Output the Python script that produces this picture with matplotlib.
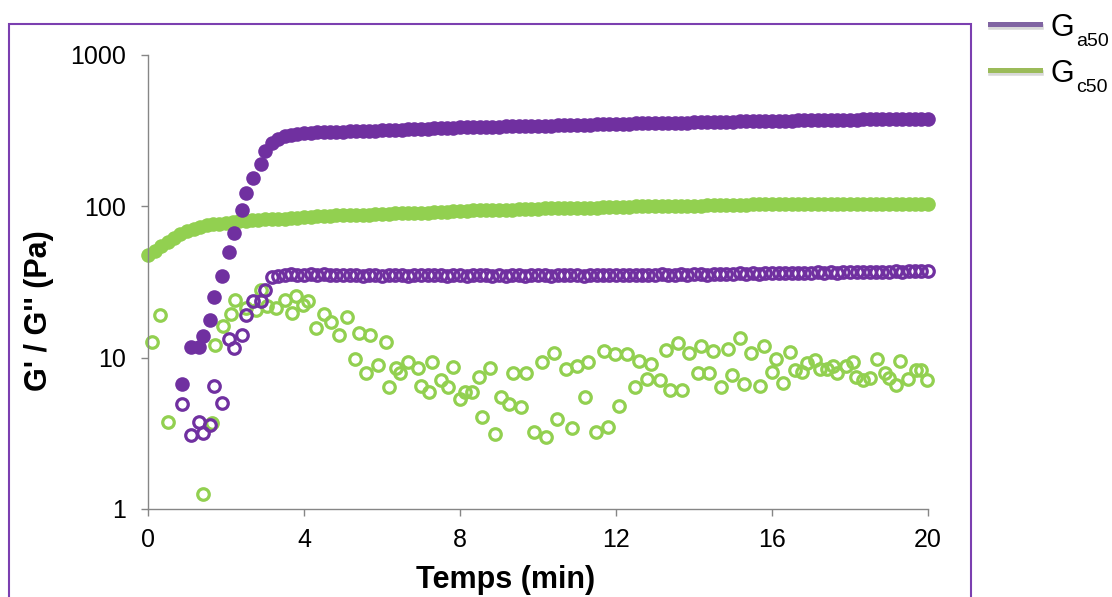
import matplotlib.pyplot as plt
from matplotlib.lines import Line2D
from matplotlib.patches import Rectangle
from matplotlib.ticker import NullLocator

plt.rcParams['font.family'] = ['Liberation Sans', 'DejaVu Sans']

PURPLE = "#7030A0"
GREEN = "#92D050"

# time grid of the instrument (min), one point every ~10 s
TIME_GRID = [
    0.00, 0.17, 0.33, 0.50, 0.67, 0.83,
    1.00, 1.17, 1.33, 1.50, 1.67, 1.83,
    2.00, 2.17, 2.33, 2.50, 2.67, 2.83,
    3.00, 3.17, 3.33, 3.50, 3.67, 3.83,
    4.00, 4.17, 4.33, 4.50, 4.67, 4.83,
    5.00, 5.17, 5.33, 5.50, 5.67, 5.83,
    6.00, 6.17, 6.33, 6.50, 6.67, 6.83,
    7.00, 7.17, 7.33, 7.50, 7.67, 7.83,
    8.00, 8.17, 8.33, 8.50, 8.67, 8.83,
    9.00, 9.17, 9.33, 9.50, 9.67, 9.83,
    10.00, 10.17, 10.33, 10.50, 10.67, 10.83,
    11.00, 11.17, 11.33, 11.50, 11.67, 11.83,
    12.00, 12.17, 12.33, 12.50, 12.67, 12.83,
    13.00, 13.17, 13.33, 13.50, 13.67, 13.83,
    14.00, 14.17, 14.33, 14.50, 14.67, 14.83,
    15.00, 15.17, 15.33, 15.50, 15.67, 15.83,
    16.00, 16.17, 16.33, 16.50, 16.67, 16.83,
    17.00, 17.17, 17.33, 17.50, 17.67, 17.83,
    18.00, 18.17, 18.33, 18.50, 18.67, 18.83,
    19.00, 19.17, 19.33, 19.50, 19.67, 19.83,
    20.00,
]

# Ga50 : first readable points, then the regular grid from 3.33 min
TIME_A_RISE = [0.87, 1.10, 1.30, 1.42, 1.60, 1.70, 1.90, 2.08, 2.20,
               2.40, 2.50, 2.68, 2.90, 3.00, 3.19]
TIME_A = TIME_A_RISE + TIME_GRID[20:]

GA_STORAGE = [
    6.7, 11.8, 11.8, 13.9, 17.8, 25, 34.5, 50, 67, 94, 122, 155, 190, 231, 262,
    280, 292, 298, 302,
    305, 306, 308, 309, 310, 311,
    312, 313, 314, 315, 316, 317,
    318, 319, 320, 321, 323, 324,
    325, 326, 327, 328, 329, 331,
    332, 332, 333, 334, 335, 335,
    336, 337, 338, 339, 340, 340,
    341, 342, 342, 343, 344, 344,
    345, 346, 347, 348, 348, 349,
    350, 351, 352, 353, 353, 354,
    355, 356, 356, 357, 358, 358,
    359, 360, 361, 361, 362, 362,
    363, 364, 365, 366, 366, 367,
    368, 368, 369, 369, 370, 370,
    371, 371, 372, 372, 373, 373,
    374, 374, 375, 375, 376, 376,
    377, 377, 378, 378, 379, 379,
    380,
]

GA_LOSS = [
    4.96, 3.1, 3.77, 3.2, 3.6, 6.5, 5.0, 13.2, 11.6, 14.2, 19.1, 23.6, 23.6, 28.2, 34.0,
    34.8, 35.2, 35.5, 35.3,
    35.4, 35.6, 35.2, 35.5, 35.3, 35.1,
    35.0, 35.3, 35.1, 34.9, 35.2, 35.0,
    34.9, 35.1, 35.3, 35.0, 34.8, 35.1,
    35.2, 35.4, 35.0, 35.1, 34.9, 35.2,
    35.0, 34.8, 35.1, 35.3, 35.0, 34.9,
    35.1, 34.8, 35.0, 35.2, 34.9, 35.1,
    35.0, 35.2, 34.9, 35.1, 35.3, 35.0,
    35.2, 34.9, 35.1, 35.0, 35.3, 35.1,
    35.2, 35.0, 35.3, 35.1, 35.4, 35.2,
    35.3, 35.5, 35.2, 35.4, 35.6, 35.3,
    35.5, 35.7, 35.4, 35.8, 35.6, 35.9,
    35.7, 36.0, 35.8, 36.1, 35.9, 36.2,
    36.0, 36.3, 36.1, 36.4, 36.2, 36.5,
    36.3, 36.6, 36.4, 36.7, 36.5, 36.8,
    36.6, 36.9, 36.7, 37.0, 36.8, 37.1,
    37.0, 37.3, 37.1, 37.4, 37.2, 37.5,
    37.3,
]

# Gc50
TIME_C = TIME_GRID
GC_STORAGE = [
    48, 51, 55, 58, 62, 66,
    69, 71, 73, 75, 76, 77,
    78, 79, 80, 80, 81, 81,
    82, 82, 83, 83, 84, 84,
    85, 85, 86, 86, 86, 87,
    87, 87, 88, 88, 88, 89,
    89, 89, 90, 90, 90, 91,
    91, 91, 92, 92, 92, 93,
    93, 93, 94, 94, 94, 95,
    95, 95, 95, 96, 96, 96,
    96, 97, 97, 97, 97, 98,
    98, 98, 98, 98, 99, 99,
    99, 99, 99, 100, 100, 100,
    100, 100, 101, 101, 101, 101,
    101, 101, 102, 102, 102, 102,
    102, 102, 102, 103, 103, 103,
    103, 103, 103, 103, 103, 103,
    103, 103, 103, 104, 104, 104,
    104, 104, 104, 104, 104, 104,
    104, 104, 104, 104, 104, 104,
    104,
]

TIME_C_LOSS = [
    0.09, 0.30, 0.50, 1.40, 1.63, 1.71, 1.92, 2.12, 2.22, 2.52,
    2.78, 2.91, 3.04, 3.29, 3.52, 3.69, 3.80, 3.97, 4.10, 4.32,
    4.50, 4.70, 4.89, 5.09, 5.30, 5.40, 5.58, 5.70, 5.89, 6.09,
    6.17, 6.37, 6.45, 6.66, 6.92, 7.01, 7.20, 7.29, 7.50, 7.68,
    7.81, 7.99, 8.12, 8.32, 8.48, 8.57, 8.78, 8.89, 9.06, 9.25,
    9.35, 9.57, 9.68, 9.91, 10.09, 10.20, 10.40, 10.48, 10.71, 10.88,
    10.99, 11.20, 11.29, 11.48, 11.69, 11.79, 11.97, 12.08, 12.28, 12.48,
    12.59, 12.79, 12.91, 13.12, 13.29, 13.39, 13.59, 13.70, 13.87, 14.10,
    14.19, 14.38, 14.49, 14.68, 14.87, 14.98, 15.17, 15.28, 15.47, 15.68,
    15.79, 16.01, 16.10, 16.27, 16.47, 16.58, 16.78, 16.90, 17.09, 17.24,
    17.41, 17.56, 17.67, 17.91, 18.08, 18.15, 18.33, 18.50, 18.69, 18.89,
    19.00, 19.17, 19.27, 19.49, 19.70, 19.81, 19.97,
]
GC_LOSS = [
    12.6, 19.0, 3.77, 1.26, 3.7, 12.2, 16.1, 19.3, 24.2, 21.3,
    20.8, 28.2, 21.9, 21.3, 24.2, 19.8, 25.5, 22.4, 23.6, 15.7,
    19.3, 17.1, 14.2, 18.7, 9.85, 14.6, 7.95, 14.2, 9.0, 12.6,
    6.4, 8.6, 7.95, 9.4, 8.6, 6.5, 5.9, 9.3, 7.15, 6.4,
    8.7, 5.3, 5.96, 5.9, 7.5, 4.07, 8.6, 3.14, 5.5, 4.96,
    7.95, 4.7, 7.95, 3.24, 9.4, 3.0, 10.8, 3.95, 8.46, 3.44,
    8.85, 5.5, 9.3, 3.24, 11.0, 3.49, 10.5, 4.76, 10.5, 6.4,
    9.45, 7.2, 9.1, 7.08, 11.3, 6.14, 12.5, 6.14, 10.7, 7.9,
    12.0, 7.9, 11.0, 6.4, 11.4, 7.7, 13.5, 6.7, 10.8, 6.5,
    11.9, 8.0, 9.8, 6.8, 10.9, 8.3, 8.1, 9.2, 9.7, 8.4,
    8.4, 8.8, 7.9, 8.85, 9.3, 7.5, 7.15, 7.3, 9.8, 7.9,
    7.3, 6.6, 9.45, 7.2, 8.3, 8.3, 7.08,
]

W, H = 1112, 597
fig = plt.figure(figsize=(W / 100, H / 100), dpi=100)
ax = fig.add_axes([148 / W, 1 - 509 / H, 780 / W, 454 / H])

ax.plot(TIME_C, GC_STORAGE, 'o', color=GREEN, ms=10.5, mew=0, clip_on=False)
ax.plot(TIME_C_LOSS, GC_LOSS, 'o', mfc='none', mec=GREEN, ms=8.3, mew=2.3, clip_on=False)
ax.plot(TIME_A, GA_STORAGE, 'o', color=PURPLE, ms=10.5, mew=0, clip_on=False)
ax.plot(TIME_A, GA_LOSS, 'o', mfc='none', mec=PURPLE, ms=8.3, mew=2.3, clip_on=False)

ax.set_yscale('log')
ax.set_ylim(1, 1000)
ax.set_xlim(0, 20)
ax.set_yticks([1, 10, 100, 1000])
ax.set_yticklabels(["1", "10", "100", "1000"])
ax.yaxis.set_minor_locator(NullLocator())
ax.set_xticks([0, 4, 8, 12, 16, 20])
ax.set_xticklabels(["0", "4", "8", "12", "16", "20"])

for side in ['top', 'right']:
    ax.spines[side].set_visible(False)
for side in ['left', 'bottom']:
    ax.spines[side].set_color('#868686')
    ax.spines[side].set_linewidth(1)
ax.tick_params(direction='out', length=5, width=1, color='#868686', labelsize=18)
ax.tick_params(axis='y', pad=11)
ax.tick_params(axis='x', pad=9)

fig.text(506 / W, 1 - 580 / H, "Temps (min)", fontsize=22, fontweight='bold',
         ha='center', va='center')
fig.text(39 / W, 1 - 311 / H, "G' / G'' (Pa)", fontsize=22, fontweight='bold',
         rotation=90, ha='center', va='center')

# outer frame
fig.add_artist(Rectangle((9 / W, -0.05), 962 / W, (H - 24) / H + 0.05,
                         transform=fig.transFigure, fill=False,
                         edgecolor='#7B3FB0', lw=1.5))

# legend outside the frame
legend_items = [("#8064A2", "a50", 24), ("#9BBB59", "c50", 70)]
for col, sub, ypx in legend_items:
    fig.add_artist(Line2D([991 / W, 1041 / W], [1 - (ypx + 3) / H] * 2,
                          color='#bfbfbf', lw=4, alpha=0.6, transform=fig.transFigure))
    fig.add_artist(Line2D([990 / W, 1040 / W], [1 - ypx / H] * 2,
                          color=col, lw=3.6, transform=fig.transFigure))
    fig.text(1050 / W, 1 - (ypx + 4) / H, "G", fontsize=22, ha='left', va='center')
    fig.text(1076 / W, 1 - (ypx + 18) / H, sub, fontsize=14, ha='left', va='center')

fig.savefig("out.png", dpi=100)
